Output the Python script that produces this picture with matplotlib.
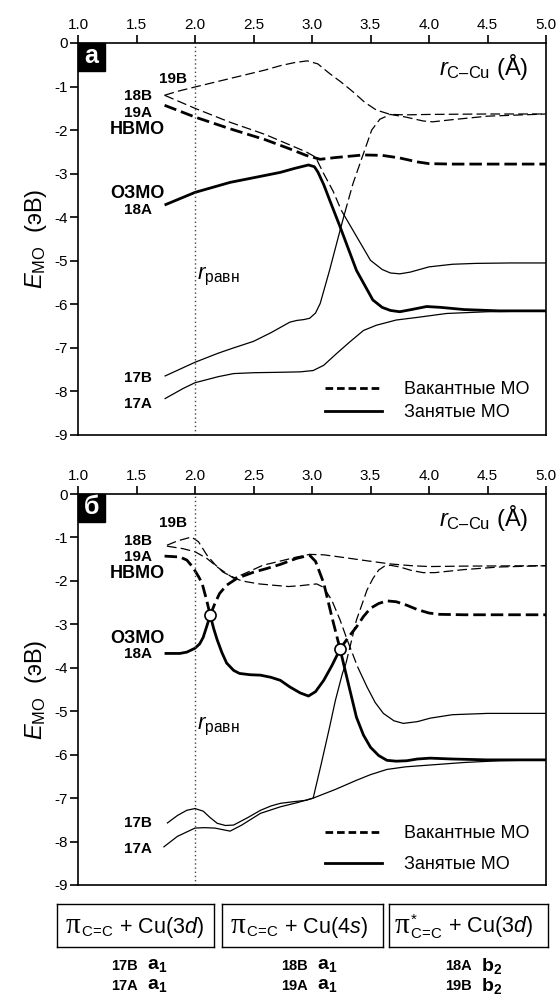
import matplotlib
matplotlib.use('Agg')
import matplotlib.pyplot as plt
from matplotlib.lines import Line2D
from matplotlib.patches import Rectangle

plt.rcParams['font.family'] = ['Liberation Sans', 'DejaVu Sans']
plt.rcParams['mathtext.fontset'] = 'custom'
plt.rcParams['mathtext.rm'] = 'Liberation Sans'
plt.rcParams['mathtext.it'] = 'Liberation Sans:italic'
plt.rcParams['mathtext.bf'] = 'Liberation Sans:bold'
plt.rcParams['axes.unicode_minus'] = False
plt.rcParams['lines.scale_dashes'] = False

# ---- panel а ----
a_19B_x = [1.74, 1.85, 2.0, 2.2, 2.4, 2.6, 2.73, 2.85, 2.96, 3.05, 3.15, 3.25, 3.35, 3.45, 3.55, 3.67, 3.8, 4.0, 4.5, 5.0]
a_19B_y = [-1.2, -1.11, -1.01, -0.88, -0.75, -0.62, -0.52, -0.45, -0.41, -0.48, -0.7, -0.9, -1.12, -1.36, -1.54, -1.64, -1.65, -1.64, -1.63, -1.63]
a_18B_vac_x = [1.74, 2.0, 2.3, 2.6, 2.81, 2.95, 3.03, 3.1, 3.18, 3.25]
a_18B_vac_y = [-1.2, -1.5, -1.82, -2.1, -2.34, -2.5, -2.62, -3.0, -3.4, -3.84]
a_18B_occ_x = [3.25, 3.35, 3.5, 3.6, 3.67, 3.75, 3.84, 4.0, 4.2, 4.4, 4.7, 5.0]
a_18B_occ_y = [-3.84, -4.3, -4.99, -5.2, -5.28, -5.3, -5.26, -5.14, -5.08, -5.06, -5.05, -5.05]
a_19A_x = [1.74, 2.0, 2.3, 2.6, 2.8, 2.95, 3.07, 3.2, 3.44, 3.6, 3.75, 3.9, 4.0, 4.2, 5.0]
a_19A_y = [-1.43, -1.7, -1.97, -2.22, -2.42, -2.58, -2.67, -2.63, -2.57, -2.58, -2.64, -2.73, -2.77, -2.78, -2.78]
a_18A_x = [1.74, 2.0, 2.3, 2.6, 2.73, 2.85, 2.97, 3.02, 3.05, 3.1, 3.15, 3.24, 3.38, 3.52, 3.6, 3.67, 3.75, 3.85, 3.98, 4.1, 4.3, 4.6, 5.0]
a_18A_y = [-3.72, -3.43, -3.2, -3.04, -2.97, -2.88, -2.8, -2.84, -2.96, -3.25, -3.6, -4.22, -5.22, -5.9, -6.07, -6.14, -6.17, -6.12, -6.05, -6.07, -6.12, -6.15, -6.15]
a_17B_occ_x = [1.74, 2.0, 2.2, 2.33, 2.5, 2.65, 2.75, 2.81, 2.87, 2.93, 2.98, 3.03, 3.07, 3.15, 3.24, 3.28]
a_17B_occ_y = [-7.65, -7.33, -7.12, -7.0, -6.85, -6.65, -6.5, -6.41, -6.37, -6.35, -6.32, -6.2, -5.98, -5.22, -4.3, -3.9]
a_17B_vac_x = [3.28, 3.35, 3.42, 3.51, 3.58, 3.67, 3.8, 3.95, 4.03, 4.2, 4.5, 5.0]
a_17B_vac_y = [-3.9, -3.23, -2.69, -2.0, -1.75, -1.64, -1.7, -1.79, -1.81, -1.76, -1.68, -1.63]
a_17A_x = [1.74, 1.9, 2.0, 2.2, 2.33, 2.5, 2.73, 2.9, 3.01, 3.1, 3.21, 3.32, 3.44, 3.55, 3.72, 3.9, 4.15, 4.5, 5.0]
a_17A_y = [-8.17, -7.93, -7.8, -7.66, -7.59, -7.57, -7.56, -7.55, -7.52, -7.4, -7.13, -6.87, -6.6, -6.48, -6.36, -6.3, -6.21, -6.17, -6.15]

# ---- panel б ----
b_19B_vac_x = [1.76, 1.85, 1.97, 2.03, 2.1, 2.17, 2.24, 2.3, 2.38, 2.44, 2.55, 2.67, 2.8, 2.9, 3.04, 3.1, 3.17, 3.24, 3.3, 3.39]
b_19B_vac_y = [-1.18, -1.08, -0.99, -1.1, -1.4, -1.62, -1.8, -1.88, -1.98, -2.02, -2.07, -2.1, -2.13, -2.11, -2.07, -2.15, -2.45, -2.9, -3.35, -3.98]
b_19B_occ_x = [3.39, 3.47, 3.54, 3.61, 3.7, 3.78, 3.9, 4.01, 4.2, 4.5, 5.0]
b_19B_occ_y = [-3.98, -4.44, -4.8, -5.05, -5.22, -5.28, -5.24, -5.16, -5.08, -5.05, -5.05]
b_18B_x = [1.76, 1.9, 2.0, 2.1, 2.2, 2.33, 2.45, 2.58, 2.72, 2.87, 2.98, 3.1, 3.24, 3.45, 3.67, 3.85, 4.0, 4.3, 5.0]
b_18B_y = [-1.2, -1.26, -1.33, -1.48, -1.7, -1.94, -1.8, -1.64, -1.55, -1.45, -1.39, -1.4, -1.45, -1.53, -1.61, -1.65, -1.67, -1.66, -1.65]
b_19A_vac1_x = [1.74, 1.87, 1.93, 1.98, 2.03, 2.06, 2.1, 2.13]
b_19A_vac1_y = [-1.43, -1.45, -1.52, -1.68, -1.9, -2.05, -2.45, -2.79]
b_19A_occ_x = [2.13, 2.16, 2.19, 2.23, 2.27, 2.33, 2.38, 2.47, 2.56, 2.65, 2.73, 2.81, 2.9, 2.97, 3.03, 3.1, 3.17, 3.24]
b_19A_occ_y = [-2.79, -3.1, -3.36, -3.65, -3.89, -4.06, -4.13, -4.16, -4.17, -4.22, -4.29, -4.44, -4.58, -4.65, -4.55, -4.29, -3.95, -3.57]
b_19A_vac2_x = [3.24, 3.31, 3.38, 3.44, 3.5, 3.57, 3.64, 3.72, 3.81, 3.9, 4.0, 4.09, 4.3, 5.0]
b_19A_vac2_y = [-3.57, -3.3, -3.06, -2.82, -2.63, -2.52, -2.46, -2.48, -2.56, -2.66, -2.74, -2.77, -2.78, -2.78]
b_18A_occ1_x = [1.74, 1.87, 1.93, 2.0, 2.04, 2.07, 2.1, 2.13]
b_18A_occ1_y = [-3.67, -3.67, -3.64, -3.55, -3.45, -3.3, -3.05, -2.79]
b_18A_vac_x = [2.13, 2.17, 2.21, 2.27, 2.36, 2.5, 2.62, 2.73, 2.87, 2.98, 3.03, 3.1, 3.17, 3.24]
b_18A_vac_y = [-2.79, -2.52, -2.29, -2.1, -1.94, -1.8, -1.71, -1.62, -1.48, -1.41, -1.55, -2.05, -2.83, -3.57]
b_18A_occ2_x = [3.24, 3.31, 3.38, 3.44, 3.5, 3.57, 3.64, 3.72, 3.81, 3.9, 4.01, 4.2, 4.5, 5.0]
b_18A_occ2_y = [-3.57, -4.36, -5.14, -5.55, -5.83, -6.02, -6.13, -6.15, -6.14, -6.1, -6.08, -6.1, -6.12, -6.12]
b_17B_occ_x = [1.76, 1.85, 1.93, 2.0, 2.07, 2.13, 2.19, 2.26, 2.33, 2.45, 2.56, 2.65, 2.73, 2.85, 2.95, 3.01, 3.08, 3.15, 3.2, 3.26, 3.29]
b_17B_occ_y = [-7.58, -7.4, -7.28, -7.24, -7.3, -7.45, -7.58, -7.63, -7.62, -7.45, -7.28, -7.18, -7.12, -7.08, -7.05, -7.0, -6.2, -5.37, -4.75, -4.13, -3.9]
b_17B_vac_x = [3.29, 3.34, 3.38, 3.43, 3.47, 3.52, 3.57, 3.62, 3.67, 3.75, 3.85, 3.95, 4.05, 4.3, 4.6, 5.0]
b_17B_vac_y = [-3.9, -3.35, -2.9, -2.52, -2.21, -1.95, -1.75, -1.66, -1.64, -1.68, -1.76, -1.81, -1.81, -1.74, -1.68, -1.65]
b_17A_x = [1.73, 1.85, 2.0, 2.08, 2.17, 2.3, 2.4, 2.56, 2.73, 2.88, 3.01, 3.2, 3.38, 3.5, 3.64, 3.8, 4.0, 4.3, 4.6, 5.0]
b_17A_y = [-8.13, -7.88, -7.69, -7.68, -7.69, -7.76, -7.62, -7.35, -7.2, -7.1, -7.0, -6.8, -6.59, -6.46, -6.34, -6.28, -6.24, -6.18, -6.14, -6.12]
b_cross_x = [2.13, 3.24]
b_cross_y = [-2.79, -3.57]

r_eq = 2.0
x_ticks = [1.0, 1.5, 2.0, 2.5, 3.0, 3.5, 4.0, 4.5, 5.0]
y_ticks = [0, -1, -2, -3, -4, -5, -6, -7, -8, -9]

a_labels = [('19B', 1.81, -0.83), ('18B', 1.51, -1.22), ('19A', 1.51, -1.61), ('НВМО', 1.51, -1.98),
            ('ОЗМО', 1.51, -3.45), ('18A', 1.51, -3.84), ('17B', 1.51, -7.7), ('17A', 1.51, -8.28)]
b_labels = [('19B', 1.81, -0.67), ('18B', 1.51, -1.08), ('19A', 1.51, -1.45), ('НВМО', 1.51, -1.84),
            ('ОЗМО', 1.51, -3.32), ('18A', 1.51, -3.69), ('17B', 1.51, -7.58), ('17A', 1.51, -8.16)]

# orbital character boxes: pi sign + rest of the text
box_rest = [r'${}_{\mathrm{C}\!=\!\mathrm{C}}$ + Cu(3$\mathit{d}$)',
            r'${}_{\mathrm{C}\!=\!\mathrm{C}}$ + Cu(4$\mathit{s}$)',
            r'${}^{*}_{\mathrm{C}\!=\!\mathrm{C}}$ + Cu(3$\mathit{d}$)']
mo_names = [['17B', '17A'], ['18B', '19A'], ['18A', '19B']]
mo_sym = [r'$\mathbf{a}_{\mathbf{1}}$', r'$\mathbf{a}_{\mathbf{1}}$', r'$\mathbf{b}_{\mathbf{2}}$']

styles = {
    'thin': dict(lw=0.9, ls='-'),
    'thin_dash': dict(lw=0.9, ls=(0, (7, 3))),
    'thick': dict(lw=2.0, ls='-'),
    'thick_dash': dict(lw=2.0, ls=(0, (9, 3.6))),
}

curves_a = [
    (a_19B_x, a_19B_y, 'thin_dash'),
    (a_18B_vac_x, a_18B_vac_y, 'thin_dash'),
    (a_18B_occ_x, a_18B_occ_y, 'thin'),
    (a_19A_x, a_19A_y, 'thick_dash'),
    (a_18A_x, a_18A_y, 'thick'),
    (a_17B_occ_x, a_17B_occ_y, 'thin'),
    (a_17B_vac_x, a_17B_vac_y, 'thin_dash'),
    (a_17A_x, a_17A_y, 'thin'),
]
curves_b = [
    (b_19B_vac_x, b_19B_vac_y, 'thin_dash'),
    (b_19B_occ_x, b_19B_occ_y, 'thin'),
    (b_18B_x, b_18B_y, 'thin_dash'),
    (b_19A_vac1_x, b_19A_vac1_y, 'thick_dash'),
    (b_19A_occ_x, b_19A_occ_y, 'thick'),
    (b_19A_vac2_x, b_19A_vac2_y, 'thick_dash'),
    (b_18A_occ1_x, b_18A_occ1_y, 'thick'),
    (b_18A_vac_x, b_18A_vac_y, 'thick_dash'),
    (b_18A_occ2_x, b_18A_occ2_y, 'thick'),
    (b_17B_occ_x, b_17B_occ_y, 'thin'),
    (b_17B_vac_x, b_17B_vac_y, 'thin_dash'),
    (b_17A_x, b_17A_y, 'thin'),
]

W, H = 560, 998
fig = plt.figure(figsize=(5.6, 9.98), dpi=100)


def draw_panel(ax, curves, labels, letter, legend_spacing, legend_y):
    for x, y, st in curves:
        ax.plot(x, y, color='k', solid_capstyle='butt', dash_capstyle='butt', **styles[st])
    ax.axvline(r_eq, color='#444444', lw=1.0, ls=(0, (1, 2)))
    ax.set_xlim(1, 5)
    ax.set_ylim(-9, 0)
    ax.set_xticks(x_ticks)
    ax.set_xticklabels([f'{v:.1f}' for v in x_ticks])
    ax.set_yticks(y_ticks)
    ax.set_yticklabels([str(v) for v in y_ticks])
    ax.xaxis.tick_top()
    ax.tick_params(axis='x', top=True, bottom=False, labeltop=True, labelbottom=False,
                   direction='out', length=6, width=1.2, pad=2, labelsize=11)
    ax.tick_params(axis='y', left=True, right=False, direction='out', length=6,
                   width=1.2, pad=1.5, labelsize=11)
    for sp in ax.spines.values():
        sp.set_linewidth(1.2)
    for s, x, y in labels:
        fs = 13 if s in ('НВМО', 'ОЗМО') else 11
        ax.text(x, y, s, ha='center', va='center', fontsize=fs, fontweight='bold')
    ax.text(r_eq + 0.02, -5.35, r'$r_{\mathrm{равн}}$', ha='left', va='center', fontsize=16)
    ax.text(0.962, 0.939, r'$r_{\mathrm{C–Cu}}$ (Å)', transform=ax.transAxes,
            ha='right', va='center', fontsize=17)
    ax.add_patch(Rectangle((0, 1 - 0.071), 0.058, 0.071, transform=ax.transAxes,
                           color='k', clip_on=False, zorder=6))
    ax.text(0.029, 0.966, letter, transform=ax.transAxes, ha='center', va='center',
            color='white', fontsize=18, fontweight='bold', zorder=7)
    ax.set_ylabel(r'$E_{\mathrm{MO}}$  (эВ)', fontsize=17)
    ax.yaxis.set_label_coords(-0.062, 0.5)
    handles = [Line2D([], [], color='k', lw=2, ls=(0, (5.5, 2.8))),
               Line2D([], [], color='k', lw=2)]
    ax.legend(handles, ['Вакантные МО', 'Занятые МО'], loc='lower right',
              bbox_to_anchor=(0.965, legend_y), frameon=False, fontsize=13,
              handlelength=3.2, handletextpad=1.2, labelspacing=legend_spacing,
              borderaxespad=0, borderpad=0)


ax_a = fig.add_axes([78 / W, 1 - 435 / H, 468 / W, 392 / H])
draw_panel(ax_a, curves_a, a_labels, 'а', 0.33, 0.036)

ax_b = fig.add_axes([78 / W, 1 - 885 / H, 468 / W, 391 / H])
draw_panel(ax_b, curves_b, b_labels, 'б', 0.8, 0.03)
ax_b.plot(b_cross_x, b_cross_y, 'o', ms=8, mfc='white', mec='k', mew=1.2, zorder=5)

# boxes with orbital character
box_px = [(57, 214), (222, 383), (389, 548)]
pi_left = [66, 231, 395]
for (x0, x1), xp, rest in zip(box_px, pi_left, box_rest):
    bx = fig.add_axes([x0 / W, 1 - 947 / H, (x1 - x0) / W, 43 / H])
    bx.set_xticks([])
    bx.set_yticks([])
    for sp in bx.spines.values():
        sp.set_linewidth(1.0)
    fig.text(xp / W, 1 - 933 / H, 'π', family='Liberation Serif', fontsize=21,
             ha='left', va='baseline')
    fig.text((xp + 15) / W, 1 - 933 / H, rest, fontsize=15.5, ha='left', va='baseline')

name_right = [138, 308, 472]
for xr, names, sym in zip(name_right, mo_names, mo_sym):
    for row, name in enumerate(names):
        yy = 1 - (966 + 20 * row) / H
        fig.text(xr / W, yy, name, ha='right', va='center', fontsize=10.5, fontweight='bold')
        fig.text((xr + 9) / W, yy, sym, ha='left', va='center', fontsize=14)

fig.savefig('out.png', dpi=100)
